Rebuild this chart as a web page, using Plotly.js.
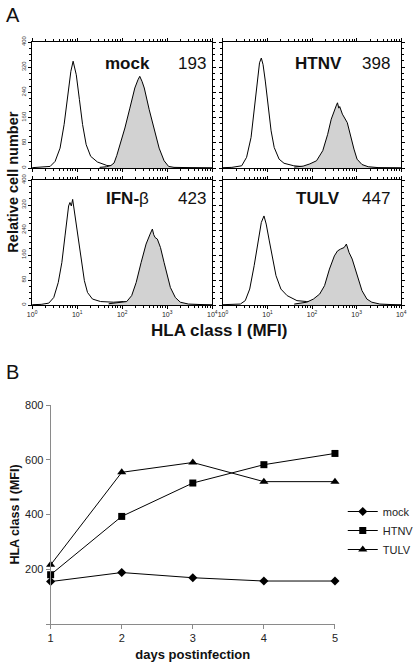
<!DOCTYPE html>
<html><head><meta charset="utf-8">
<script src="https://cdn.plot.ly/plotly-3.0.1.min.js"></script>
<style>html,body{margin:0;padding:0;background:#fff}#chart{width:419px;height:662px}</style>
</head><body><div id="chart"></div>
<script>
// ---------- Panel A: flow cytometry histograms (x = log10 fluorescence, y = cell count) ----------
const mockCtrlLog   = [0, 0.2, 0.40, 0.51, 0.62, 0.71, 0.79, 0.86, 0.91, 0.98, 1.05, 1.12, 1.20, 1.30, 1.45, 1.66, 1.85, 2.2, 2.6, 3.0, 4.0];
const mockCtrlCount = [1, 2, 5, 21, 63, 138, 222, 307, 339, 296, 217, 138, 74, 37, 19, 8, 5, 3, 2, 1, 0];
const mockStainLog   = [1.5, 1.65, 1.75, 1.82, 1.88, 1.95, 2.06, 2.17, 2.28, 2.35, 2.39, 2.44, 2.49, 2.60, 2.71, 2.82, 2.93, 3.03, 3.15, 3.4, 4.0];
const mockStainCount = [2, 4, 8, 16, 40, 74, 127, 190, 254, 280, 291, 275, 254, 185, 122, 63, 23, 5, 2, 1, 0];

const htnvCtrlLog   = [0, 0.2, 0.42, 0.53, 0.63, 0.70, 0.77, 0.82, 0.86, 0.90, 0.95, 1.01, 1.08, 1.15, 1.26, 1.37, 1.59, 1.81, 2.0, 2.5, 3.0, 4.0];
const htnvCtrlCount = [1, 2, 7, 34, 97, 181, 276, 334, 349, 328, 276, 202, 118, 65, 28, 15, 7, 4, 3, 2, 1, 0];
const htnvStainLog   = [1.6, 1.8, 1.95, 2.10, 2.24, 2.35, 2.43, 2.50, 2.54, 2.57, 2.60, 2.62, 2.65, 2.68, 2.79, 2.86, 2.94, 3.01, 3.12, 3.26, 3.5, 4.0];
const htnvStainCount = [3, 6, 13, 23, 55, 107, 155, 186, 197, 207, 190, 195, 180, 171, 144, 102, 60, 28, 11, 4, 1, 0];

const ifnCtrlLog   = [0, 0.2, 0.37, 0.48, 0.58, 0.66, 0.73, 0.79, 0.81, 0.84, 0.87, 0.90, 0.93, 0.98, 1.03, 1.09, 1.16, 1.23, 1.34, 1.52, 1.81, 2.03, 2.3, 2.7, 3.0, 4.0];
const ifnCtrlCount = [1, 2, 6, 24, 72, 136, 221, 296, 317, 328, 317, 338, 306, 264, 200, 136, 78, 40, 19, 11, 9, 11, 5, 2, 1, 0];
const ifnStainLog   = [1.7, 1.9, 2.10, 2.21, 2.31, 2.42, 2.53, 2.62, 2.67, 2.70, 2.73, 2.78, 2.85, 2.93, 3.00, 3.07, 3.18, 3.29, 3.47, 4.0];
const ifnStainCount = [4, 7, 11, 30, 72, 136, 195, 227, 243, 225, 216, 211, 184, 136, 94, 56, 24, 9, 3, 0];

const tulvCtrlLog   = [0, 0.2, 0.39, 0.50, 0.60, 0.70, 0.79, 0.86, 0.92, 0.97, 1.04, 1.11, 1.19, 1.30, 1.44, 1.66, 1.88, 2.1, 2.5, 3.0, 4.0];
const tulvCtrlCount = [1, 2, 3, 14, 51, 126, 211, 264, 285, 259, 205, 147, 94, 51, 30, 14, 11, 5, 2, 1, 0];
const tulvStainLog   = [1.6, 1.75, 1.88, 2.03, 2.17, 2.28, 2.39, 2.50, 2.57, 2.64, 2.72, 2.77, 2.83, 2.90, 2.97, 3.05, 3.12, 3.23, 3.34, 3.52, 4.0];
const tulvStainCount = [3, 6, 9, 19, 35, 62, 115, 157, 173, 179, 184, 195, 168, 147, 115, 78, 46, 19, 9, 3, 0];

const panelNames = ['mock', 'HTNV', 'IFN-β', 'TULV'];
const panelMFI   = ['193', '398', '423', '447'];
const histYTicks = [0, 80, 160, 240, 320, 400];
const histXTicks = [1, 10, 100, 1000, 10000];
const histXText  = ['10<sup>0</sup>', '10<sup>1</sup>', '10<sup>2</sup>', '10<sup>3</sup>', '10<sup>4</sup>'];

// ---------- Panel B: HLA class I over time ----------
const days = [1, 2, 3, 4, 5];
const mockMFI = [155, 188, 169, 157, 157];
const htnvMFI = [180, 393, 515, 582, 623];
const tulvMFI = [216, 554, 590, 520, 520];
const bYTicks = [0, 200, 400, 600, 800];
const bYText  = ['', '200', '400', '600', '800'];

// ---------- layout helpers ----------
const W = 419, H = 662;
const FONT = 'Arial, "Liberation Sans", Helvetica, sans-serif';
const px = x => x / W;
const py = y => 1 - y / H;
const toMFI = arr => arr.map(v => Math.pow(10, v));

const minorVals = [];
for (let d = 1; d <= 1000; d *= 10) for (let k = 2; k <= 9; k++) minorVals.push(k * d);

function histX(x0, x1, anchor, labels) {
  return {
    type: 'log', range: [0, 4], domain: [px(x0), px(x1)], anchor: anchor,
    showline: true, mirror: 'allticks', linecolor: '#000', linewidth: 1,
    ticks: 'outside', ticklen: 3, tickwidth: 1, tickcolor: '#000',
    tickmode: 'array', tickvals: histXTicks, ticktext: histXText,
    showticklabels: labels, tickfont: { family: FONT, size: 7, color: '#222' },
    showgrid: false, zeroline: false, fixedrange: true,
    minor: { ticks: 'outside', ticklen: 2, tickcolor: '#000', tickvals: minorVals, showgrid: false }
  };
}
function histY(y0, y1, anchor, labels) {
  return {
    range: [0, 400], domain: [py(y1), py(y0)], anchor: anchor,
    showline: true, mirror: 'allticks', linecolor: '#000', linewidth: 1,
    ticks: 'outside', ticklen: 3, tickwidth: 1, tickcolor: '#000',
    tickmode: 'array', tickvals: histYTicks, tickangle: -90,
    showticklabels: labels, tickfont: { family: FONT, size: 6, color: '#333' },
    showgrid: false, zeroline: false, fixedrange: true,
    minor: { ticks: 'outside', ticklen: 2, tickcolor: '#000', dtick: 20, showgrid: false }
  };
}

const histSets = [
  [mockCtrlLog, mockCtrlCount, mockStainLog, mockStainCount, 'x', 'y'],
  [htnvCtrlLog, htnvCtrlCount, htnvStainLog, htnvStainCount, 'x2', 'y2'],
  [ifnCtrlLog, ifnCtrlCount, ifnStainLog, ifnStainCount, 'x3', 'y3'],
  [tulvCtrlLog, tulvCtrlCount, tulvStainLog, tulvStainCount, 'x4', 'y4']
];

const traces = [];
histSets.forEach(s => {
  traces.push({ x: toMFI(s[0]), y: s[1], xaxis: s[4], yaxis: s[5], type: 'scatter', mode: 'lines',
    line: { color: '#000', width: 1 }, showlegend: false, hoverinfo: 'skip' });
  traces.push({ x: toMFI(s[2]), y: s[3], xaxis: s[4], yaxis: s[5], type: 'scatter', mode: 'lines',
    fill: 'tozeroy', fillcolor: '#d2d2d2', line: { color: '#000', width: 1 }, showlegend: false, hoverinfo: 'skip' });
});

const seriesB = [
  ['mock', mockMFI, 'diamond', 7],
  ['HTNV', htnvMFI, 'square', 7],
  ['TULV', tulvMFI, 'triangle-up', 8]
];
seriesB.forEach(s => {
  traces.push({ x: days, y: s[1], name: s[0], xaxis: 'x5', yaxis: 'y5', type: 'scatter', mode: 'lines+markers',
    line: { color: '#000', width: 1 }, marker: { symbol: s[2], size: s[3], color: '#000' }, cliponaxis: false });
});

// panel positions in pixels: [x0, x1, y0, y1]
const boxes = [[33, 218, 42, 168], [229, 412, 42, 168], [33, 218, 180, 305], [229, 412, 180, 305]];

const annotations = [
  { text: 'A', x: px(4), y: py(15), xanchor: 'left', yanchor: 'middle', font: { size: 20, family: FONT, color: '#111' } },
  { text: 'B', x: px(4), y: py(372), xanchor: 'left', yanchor: 'middle', font: { size: 20, family: FONT, color: '#111' } },
  { text: '<b>Relative cell number</b>', x: px(13), y: py(182), textangle: -90, xanchor: 'center', yanchor: 'middle',
    font: { size: 14.5, family: FONT, color: '#111' } },
  { text: '<b>HLA class I (MFI)</b>', x: px(225), y: py(330), xanchor: 'center', yanchor: 'middle',
    font: { size: 17, family: FONT, color: '#111' } }
];
const labelCenters = [[131, 197, 63], [327, 386, 63], [131, 197, 198], [327, 386, 198]];
panelNames.forEach((n, i) => {
  const c = labelCenters[i];
  const txt = n === 'IFN-β' ? '<b>IFN-</b>β' : '<b>' + n + '</b>';
  annotations.push({ text: txt, x: px(c[0]), y: py(c[2]), xanchor: 'center', yanchor: 'middle',
    font: { size: 17, family: FONT, color: '#111' } });
  annotations.push({ text: panelMFI[i], x: px(c[1]), y: py(c[2]), xanchor: 'center', yanchor: 'middle',
    font: { size: 17, family: FONT, color: '#111' } });
});
annotations.forEach(a => { a.xref = 'paper'; a.yref = 'paper'; a.showarrow = false; });

const layout = {
  width: W, height: H, margin: { l: 0, r: 0, t: 0, b: 0 },
  paper_bgcolor: '#fff', plot_bgcolor: '#fff',
  font: { family: FONT, color: '#111' },
  xaxis: histX(boxes[0][0], boxes[0][1], 'y', false),
  yaxis: histY(boxes[0][2], boxes[0][3], 'x', true),
  xaxis2: histX(boxes[1][0], boxes[1][1], 'y2', false),
  yaxis2: histY(boxes[1][2], boxes[1][3], 'x2', false),
  xaxis3: histX(boxes[2][0], boxes[2][1], 'y3', true),
  yaxis3: histY(boxes[2][2], boxes[2][3], 'x3', true),
  xaxis4: histX(boxes[3][0], boxes[3][1], 'y4', true),
  yaxis4: histY(boxes[3][2], boxes[3][3], 'x4', false),
  xaxis5: {
    range: [1, 5], domain: [px(52), px(344)], anchor: 'y5',
    showline: true, linecolor: '#8a8a8a', linewidth: 1, ticks: 'outside', ticklen: 4, tickcolor: '#8a8a8a',
    tickmode: 'array', tickvals: days, tickfont: { size: 11, family: FONT, color: '#222' },
    showgrid: false, zeroline: false, fixedrange: true,
    title: { text: '<b>days postinfection</b>', font: { size: 13, family: FONT, color: '#111' }, standoff: 6 }
  },
  yaxis5: {
    range: [0, 800], domain: [py(624), py(405)], anchor: 'x5',
    showline: true, linecolor: '#8a8a8a', linewidth: 1, ticks: 'outside', ticklen: 4, tickcolor: '#8a8a8a',
    tickmode: 'array', tickvals: bYTicks, ticktext: bYText, tickfont: { size: 11, family: FONT, color: '#222' },
    showgrid: false, zeroline: false, fixedrange: true,
    title: { text: '<b>HLA class I (MFI)</b>', font: { size: 12.5, family: FONT, color: '#111' }, standoff: 2 }
  },
  showlegend: true,
  legend: { x: px(352), y: py(497), xanchor: 'left', yanchor: 'top', bgcolor: 'rgba(0,0,0,0)',
    font: { size: 11, family: FONT, color: '#222' }, tracegroupgap: 0, itemwidth: 30 },
  annotations: annotations
};

Plotly.newPlot('chart', traces, layout, { displayModeBar: false, staticPlot: true });
</script>
</body></html>
